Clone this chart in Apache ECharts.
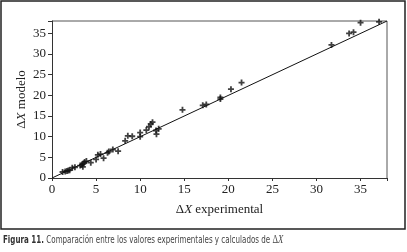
<!DOCTYPE html>
<html>
<head>
<meta charset="utf-8">
<script src="https://cdn.jsdelivr.net/npm/echarts@6/dist/echarts.min.js"></script>
<style>
  html, body { margin: 0; padding: 0; background: #fff; }
  #chart { width: 407px; height: 252px; }
</style>
</head>
<body>
<div id="chart"></div>
<script>
// valores
const expX = [1.2, 1.5, 1.7, 1.85, 2.0, 2.3, 2.6, 3.2, 3.4, 3.5, 3.55, 3.7, 3.9, 4.4, 5.0, 5.2, 5.5, 5.85, 6.3, 6.45, 6.9, 7.5,
    8.3, 8.6, 9.1, 10.0, 10.0, 10.7, 11.0, 11.2, 11.4, 11.85, 11.8, 12.1, 14.8, 17.1, 17.5, 19.1, 19.1, 20.3, 21.5,
    31.7, 33.7, 34.2, 35.0, 37.1];
const modY = [1.45, 1.6, 1.7, 1.8, 1.9, 2.5, 2.6, 3.0, 3.2, 2.7, 3.5, 3.9, 4.1, 3.7, 4.5, 5.6, 5.8, 4.8, 6.1, 6.4, 6.9, 6.5,
    9.0, 10.2, 10.1, 10.0, 11.0, 11.6, 12.4, 13.1, 13.5, 10.6, 11.5, 11.9, 16.5, 17.6, 17.8, 19.5, 19.1, 21.5, 23.1,
    32.2, 35.0, 35.3, 37.6, 37.8];
const lineX = [0, 38];
const axisTicks = [0, 5, 10, 15, 20, 25, 30, 35];

let points = []
expX.forEach(function (v, i) {
    points.push([v, modY[i]])
})

let myChart = echarts.init(document.getElementById('chart'));

const serif = 'Liberation Serif';
const narrow = 'DejaVu Sans Condensed';
let nameRich = {
    a: {fontFamily: serif, fontSize: 13, color: '#222'},
    i: {fontFamily: serif, fontSize: 13, fontStyle: 'italic', color: '#222'}
};
function tickFmt(v) { return axisTicks.indexOf(v) >= 0 ? v : ''; }

let option = {
    animation: false,
    grid: {left: 52, top: 21, right: 20, bottom: 74},
    xAxis: {
        type: 'value', min: 0, max: 38, interval: 5,
        name: '{a|Δ}{i|X}{a| experimental}',
        nameLocation: 'middle', nameGap: 25,
        nameTextStyle: {rich: nameRich},
        axisLine: {lineStyle: {color: '#333', width: 1}},
        axisTick: {show: true, length: 3, lineStyle: {color: '#333'}},
        axisLabel: {fontFamily: serif, fontSize: 13, color: '#222', margin: 5, formatter: tickFmt},
        splitLine: {show: false}
    },
    yAxis: {
        type: 'value', min: 0, max: 38, interval: 5,
        name: '{a|Δ}{i|X}{a| modelo}',
        nameLocation: 'middle', nameGap: 24, nameMoveOverlap: false,
        nameTextStyle: {rich: nameRich},
        axisLine: {show: true, lineStyle: {color: '#333', width: 1}},
        axisTick: {show: true, length: 4, lineStyle: {color: '#333'}},
        axisLabel: {fontFamily: serif, fontSize: 13, color: '#222', margin: 6, formatter: tickFmt},
        splitLine: {show: false}
    },
    series: [{
        type: 'line',
        data: lineX.map(function (v) { return [v, v]; }),
        showSymbol: false,
        lineStyle: {color: '#111', width: 1},
        z: 1
    }, {
        type: 'scatter',
        data: points,
        symbol: 'path://M3.5,0H6.5V3.5H10V6.5H6.5V10H3.5V6.5H0V3.5H3.5Z',
        symbolSize: 6,
        itemStyle: {color: '#111'},
        z: 2
    }],
    graphic: [
        // marco exterior
        {type: 'rect', shape: {x: 1, y: 1, width: 404, height: 228},
            style: {fill: 'none', stroke: '#222', lineWidth: 1.5}, silent: true},
        // borde superior y derecho del area
        {type: 'polyline', shape: {points: [[52, 21], [387, 21], [387, 178]]},
            style: {fill: 'none', stroke: '#555', lineWidth: 1}, silent: true},
        {type: 'text', x: 3, y: 234, scaleX: 0.72, style: {
            text: '{b|Figura 11.} {c|Comparación entre los valores experimentales y calculados de }{d|Δ}{e|X}',
            rich: {
                b: {fontFamily: narrow, fontWeight: 'bold', fontSize: 11, fill: '#333'},
                c: {fontFamily: narrow, fontSize: 11, fill: '#444'},
                d: {fontFamily: serif, fontSize: 12, fill: '#444'},
                e: {fontFamily: serif, fontSize: 12, fontStyle: 'italic', fill: '#444'}
            }
        }}
    ]
};
myChart.setOption(option);
</script>
</body>
</html>
